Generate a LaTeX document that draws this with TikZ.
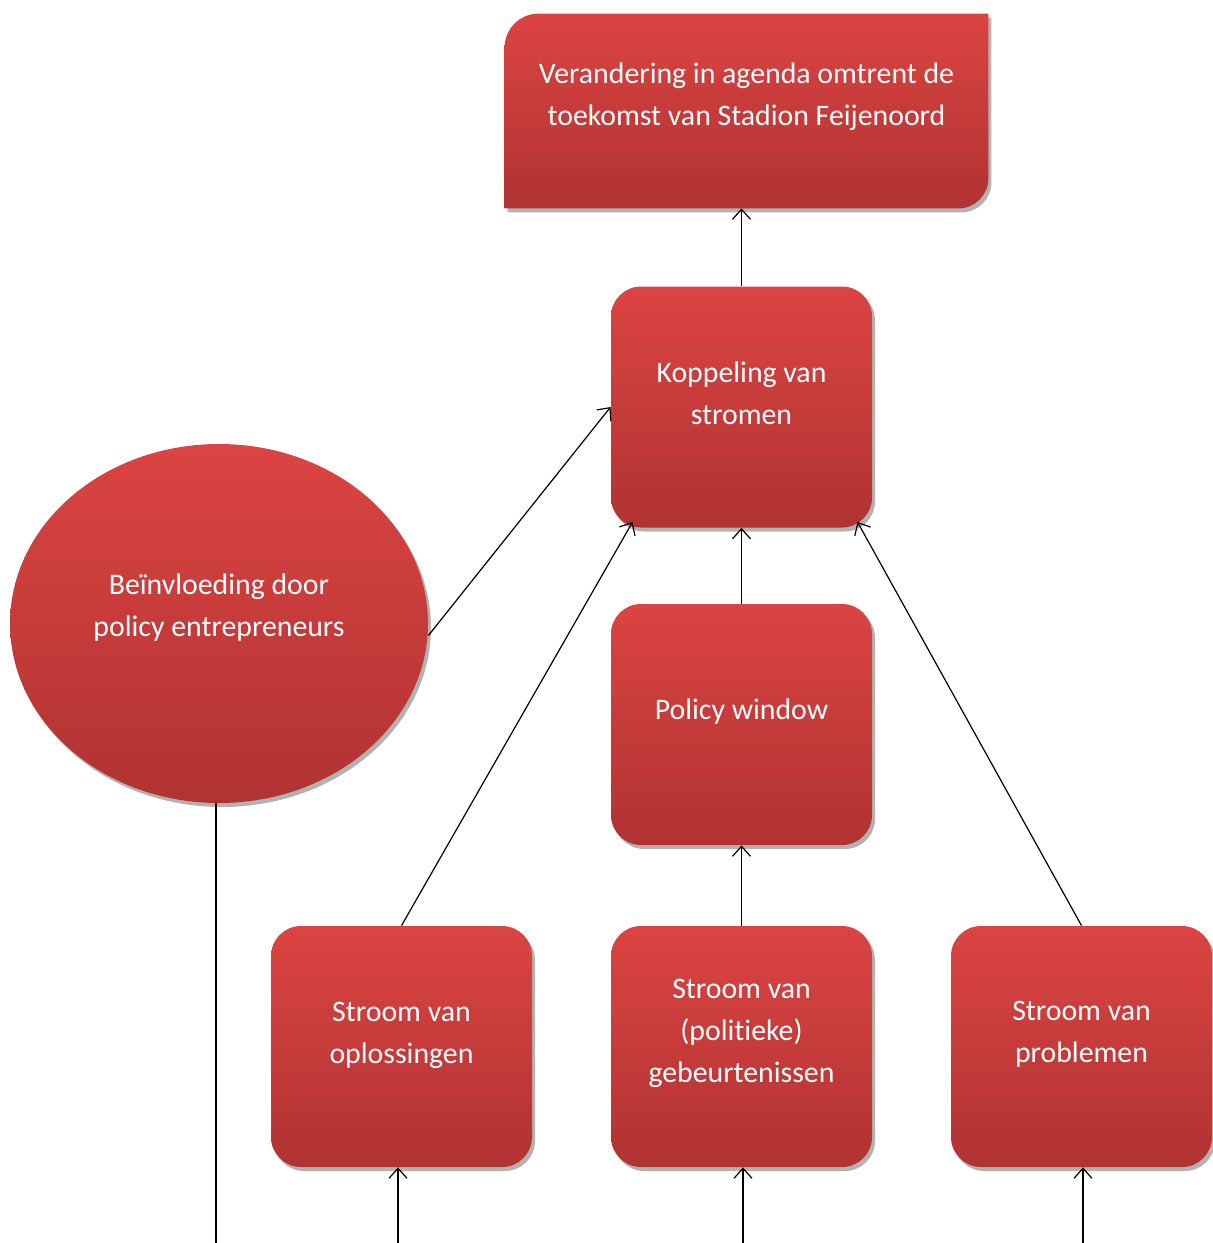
\documentclass[tikz,border=0pt]{standalone}
\usepackage{fontspec}
\setmainfont[Ligatures={NoCommon}]{Carlito}
\usetikzlibrary{shapes.geometric,shadows,arrows.meta}
\definecolor{redtop}{RGB}{219,68,66}
\definecolor{redbot}{RGB}{176,51,50}
\begin{document}
\begin{tikzpicture}[x=0.5pt,y=-0.5pt,
  shadowed/.style={drop shadow={shadow xshift=1.5pt,shadow yshift=-2pt,opacity=0.3,fill=black}},
  shapebox/.style={rectangle, rounded corners=15pt, minimum width=130.5pt, minimum height=120.5pt,
    inner sep=0pt, top color=redtop, bottom color=redbot, draw=none, shadowed},
  lbl/.style={text=white, align=center, font=\fontsize{14.9}{21}\selectfont, inner sep=0pt},
  arr/.style={-{Straight Barb[length=5pt,width=9pt]}, line width=0.6pt, black},
  plain/.style={line width=0.6pt, black},
]
\useasboundingbox (0,0) rectangle (1212,1243);

% top box (snip/round shape)
\node[rectangle, minimum width=241.5pt, minimum height=97pt, inner sep=0pt] (top) at (746.5,111) {};
\path[top color=redtop, bottom color=redbot, shadowed]
  (top.south west) -- ([yshift=-17pt]top.north west)
  arc[start angle=180, end angle=90, radius=17pt]
  -- (top.north east) -- ([yshift=15pt]top.south east)
  arc[start angle=0, end angle=-90, radius=15pt] -- cycle;
\node[lbl] (ttop) at ([yshift=7pt]top.center) {Verandering in agenda omtrent de\\toekomst van Stadion Feijenoord};

% boxes
\node[shapebox] (kop) at (741.5,407) {};
\node[lbl] (tkop) at ([yshift=6.8pt]kop.center) {Koppeling van\\stromen};

\node[shapebox] (pol) at (741.5,724.5) {};
\node[lbl] (tpol) at ([yshift=6.3pt]pol.center) {Policy window};

\node[shapebox] (opl) at (401.5,1046.5) {};
\node[lbl] (topl) at ([yshift=5.5pt]opl.center) {Stroom van\\oplossingen};

\node[shapebox] (geb) at (741.5,1046.5) {};
\node[lbl] (tgeb) at ([yshift=6.5pt]geb.center) {Stroom van\\(politieke)\\gebeurtenissen};

\node[shapebox] (prob) at (1081.5,1046.5) {};
\node[lbl] (tprob) at ([yshift=6pt]prob.center) {Stroom van\\problemen};

% ellipse
\node[ellipse, minimum width=209pt, minimum height=179.5pt, inner sep=0pt,
      top color=redtop, bottom color=redbot, draw=none, shadowed] (ell) at (219,623.5) {};
\node[lbl] (tell) at ([yshift=8.2pt]ell.center) {Beïnvloeding door\\policy entrepreneurs};

% free ends at the bottom
\coordinate (c0) at (216,1243);
\coordinate (c1) at (398,1243);
\coordinate (c2) at (743,1243);
\coordinate (c3) at (1083,1243);

% connectors
\draw[arr] (kop.north) -- (kop.north |- top.south);
\draw[arr] ([yshift=-6pt]ell.east) -- (kop.west);
\draw[arr] (opl.north) -- ([xshift=11pt,yshift=3pt]kop.south west);
\draw[arr] (pol.north) -- (kop.south);
\draw[arr] (prob.north) -- ([xshift=-7.5pt,yshift=3pt]kop.south east);
\draw[arr] (geb.north) -- (pol.south);
\draw[arr] (c1) -- (c1 |- opl.south);
\draw[arr] (c2) -- (c2 |- geb.south);
\draw[arr] (c3) -- (c3 |- prob.south);
\draw[plain] (c0 |- ell.south) -- (c0);
\end{tikzpicture}
\end{document}
